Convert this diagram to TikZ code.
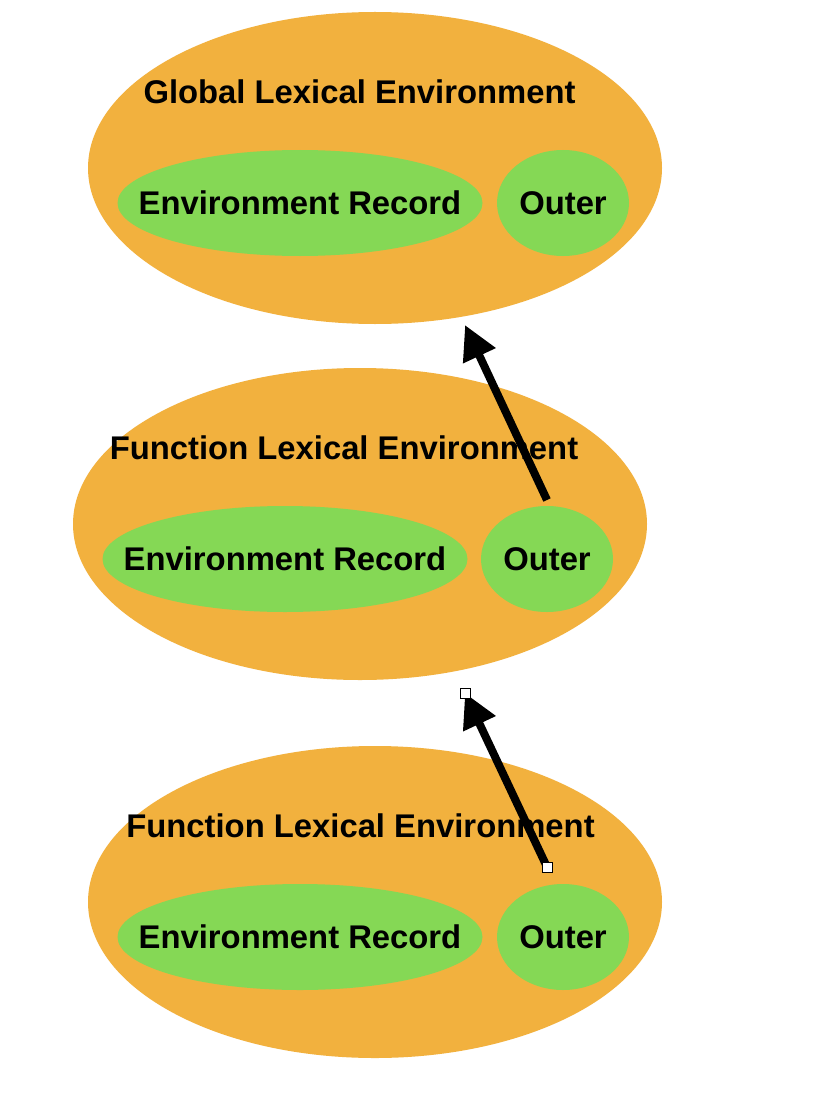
\documentclass[tikz,border=0pt]{standalone}
\usepackage{fontspec}
\setmainfont{Liberation Sans}
\usetikzlibrary{shapes.geometric,arrows.meta}
\definecolor{envorange}{RGB}{242,177,62}
\definecolor{envgreen}{RGB}{133,216,85}
\tikzset{
  lexenv/.style={ellipse,fill=envorange,draw=none,minimum width=574pt,minimum height=312pt,inner sep=0pt},
  recbox/.style={ellipse,fill=envgreen,draw=none,minimum width=365pt,minimum height=106pt,inner sep=0pt},
  outbox/.style={ellipse,fill=envgreen,draw=none,minimum width=132pt,minimum height=106pt,inner sep=0pt},
  envtext/.style={inner sep=0pt,font=\fontsize{32.8}{39}\selectfont\bfseries,text height=23.6pt,text depth=0pt},
  outerlink/.style={line width=8pt,-{Triangle[length=34pt,width=34pt]}},
  handle/.style={draw=black,fill=white,line width=0.8pt,minimum size=10pt,inner sep=0pt}
}
\begin{document}
\begin{tikzpicture}[x=1pt,y=-1pt]
\useasboundingbox[fill=white] (0,0) rectangle (812,1102);
% Global
\node[lexenv] (g) at (375,168) {};
\node[recbox] (gr) at (300,203) {};
\node[outbox] (go) at (563,203) {};
\node[envtext] (grt) at (gr) {Environment Record};
\node[envtext] (got) at (go) {Outer};
\node[envtext] (gt) at (359.5,92) {Global Lexical Environment};
% Function 1
\node[lexenv] (f1) at (360,524) {};
\node[recbox] (f1r) at (285,559) {};
\node[outbox] (f1o) at (547,559) {};
\node[envtext] (f1rt) at (f1r) {Environment Record};
\node[envtext] (f1ot) at (f1o) {Outer};
\node[envtext] (f1t) at (344,448) {Function Lexical Environment};
% Function 2
\node[lexenv] (f2) at (375,902) {};
\node[recbox] (f2r) at (300,937) {};
\node[outbox] (f2o) at (563,937) {};
\node[envtext] (f2rt) at (f2r) {Environment Record};
\node[envtext] (f2ot) at (f2o) {Outer};
\node[envtext] (f2t) at (360.5,826) {Function Lexical Environment};
% arrows
\coordinate (a1s) at (547,500);
\coordinate (a1e) at (465,325);
\coordinate (a2s) at (547,867);
\coordinate (a2e) at (465,693);
\draw[outerlink] (a1s) -- (a1e);
\draw[outerlink] (a2s) -- (a2e);
\node[handle] (h1) at (a2e) {};
\node[handle] (h2) at (a2s) {};
\end{tikzpicture}
\end{document}
